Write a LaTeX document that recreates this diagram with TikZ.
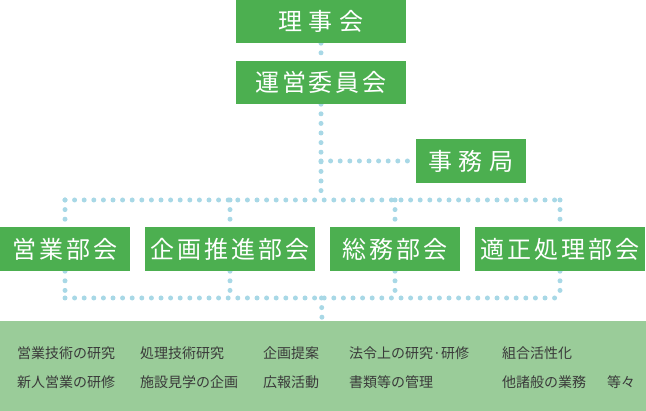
\documentclass[tikz,border=0pt]{standalone}
\usepackage{fontspec}
\newfontfamily\boxfont[LetterSpace=12]{Noto Sans CJK JP}
\newfontfamily\boxwidefont[LetterSpace=26]{Noto Sans CJK JP}
\newfontfamily\listfont{Noto Sans CJK JP}
\usetikzlibrary{positioning,backgrounds}
\definecolor{boxgreen}{HTML}{4CAF50}
\definecolor{bandgreen}{HTML}{9ACC99}
\definecolor{dotblue}{HTML}{A8D8E6}
\definecolor{listgray}{HTML}{3A3A3A}

\begin{document}
\begin{tikzpicture}[%
    x=1pt,
    y=-1pt,
    box/.style={fill=boxgreen, text=white, inner sep=0pt, minimum height=44pt,
      font=\fontsize{24}{28}\selectfont\boxfont},
    widebox/.style={box, font=\fontsize{24}{28}\selectfont\boxwidefont},
    item/.style={anchor=west, inner sep=0pt, text=listgray,
      font=\fontsize{14}{16}\selectfont\listfont},
    dots/.style={draw=dotblue, line width=5pt, line cap=round,
      dash pattern=on 0pt off 9.6pt}
  ]
    \useasboundingbox (0,0) rectangle (646,411);

    % boxes
    \node[widebox, minimum width=170pt, minimum height=43pt] (riji) at (321,21.5) {理事会};
    \node[box, minimum width=170pt, minimum height=43pt] (unei) at (321,82.5) {運営委員会};
    \node[widebox, minimum width=110pt] (jimu) at (471,161) {事務局};
    \node[box, minimum width=130pt] (eigyo) at (65,249) {営業部会};
    \node[box, minimum width=170pt] (kikaku) at (230,249) {企画推進部会};
    \node[box, minimum width=130pt] (somu) at (395,249) {総務部会};
    \node[box, minimum width=170pt] (tekisei) at (560,249) {適正処理部会};

    % activities
    \node[fill=bandgreen, inner sep=0pt, minimum width=646pt, minimum height=90pt] (band) at (323,366) {};
    \node[item] (a1) at (17,353) {営業技術の研究};
    \node[item] (a2) at (140,353) {処理技術研究};
    \node[item] (a3) at (263,353) {企画提案};
    \node[item] (a4) at (349,353) {法令上の研究·研修};
    \node[item] (a5) at (502,353) {組合活性化};
    \node[item] (b1) at (17,382) {新人営業の研修};
    \node[item] (b2) at (140,382) {施設見学の企画};
    \node[item] (b3) at (263,382) {広報活動};
    \node[item] (b4) at (349,382) {書類等の管理};
    \node[item] (b5) at (502,382) {他諸般の業務};
    \node[item] (b6) at (607,382) {等々};

    \coordinate (top) at (321.5,200);
    \coordinate (bottom) at (321.5,298);

    \begin{scope}[on background layer]
      \draw[dots] (riji) -- (unei);
      \draw[dots] (unei) -- (unei |- top);
      \draw[dots] (unei |- jimu) -- (jimu);
      \draw[dots] (eigyo |- top) -- (tekisei |- top);
      \draw[dots] (eigyo |- bottom) -- (tekisei |- bottom);
      \foreach \part in {eigyo, kikaku, somu, tekisei} {
        \draw[dots] (\part |- top) -- (\part);
        \draw[dots] (\part) -- (\part |- bottom);
      }
      \draw[dots] (bottom) -- (band);
    \end{scope}
\end{tikzpicture}
\end{document}
